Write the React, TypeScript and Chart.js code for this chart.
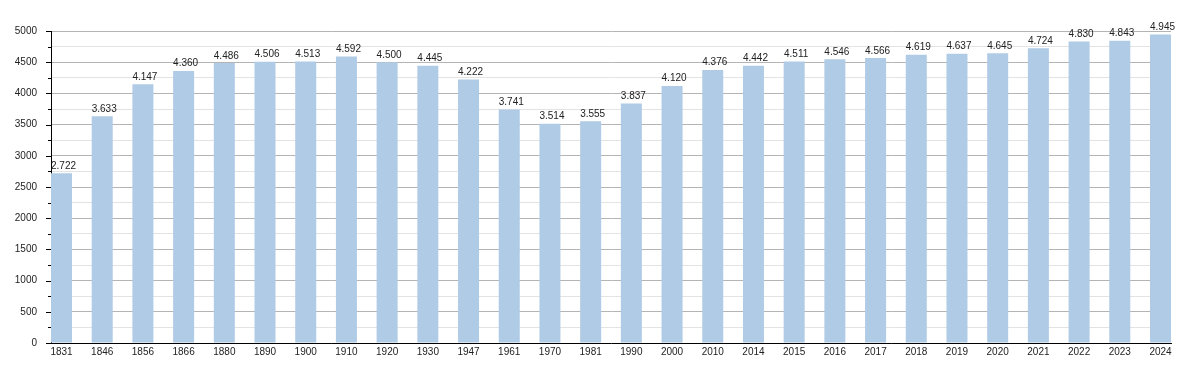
import React, { useEffect, useRef } from "react";
import { Chart, registerables } from "chart.js";

Chart.register(...registerables);

const years = ["1831","1846","1856","1866","1880","1890","1900","1910","1920","1930","1947","1961","1970","1981","1990","2000","2010","2014","2015","2016","2017","2018","2019","2020","2021","2022","2023","2024"];
const population = [2722,3633,4147,4360,4486,4506,4513,4592,4500,4445,4222,3741,3514,3555,3837,4120,4376,4442,4511,4546,4566,4619,4637,4645,4724,4830,4843,4945];
const yMax = 5000;
const yStep = 250;
const yLabelStep = 500;

const BAR_FRACTION = 0.516;
const FONT = "'Liberation Sans', Arial, sans-serif";

function fmt(v: number): string {
  return String(v).replace(/\B(?=(\d{3})+(?!\d))/g, ".");
}

const valueLabels = {
  id: "valueLabels",
  afterDatasetsDraw(chart: any) {
    const ctx = chart.ctx;
    const meta = chart.getDatasetMeta(0);
    ctx.save();
    ctx.font = `10px ${FONT}`;
    ctx.fillStyle = "#222";
    ctx.textAlign = "center";
    ctx.textBaseline = "alphabetic";
    meta.data.forEach((el: any, i: number) => {
      ctx.fillText(fmt(population[i]), el.x + 2, el.y - 4.5);
    });
    ctx.restore();
  },
};

const yTicks = {
  id: "yTicks",
  afterDraw(chart: any) {
    const ctx = chart.ctx;
    const y = chart.scales.y;
    const left = chart.chartArea.left;
    ctx.save();
    ctx.strokeStyle = "#000";
    ctx.lineWidth = 1;
    for (let v = 0; v <= yMax; v += yStep) {
      const py = Math.round(y.getPixelForValue(v)) + 0.5;
      const len = v % yLabelStep === 0 ? 5 : 3;
      ctx.beginPath();
      ctx.moveTo(left - len, py);
      ctx.lineTo(left, py);
      ctx.stroke();
    }
    ctx.restore();
  },
};

export default function App() {
  const ref = useRef<HTMLCanvasElement>(null);
  useEffect(() => {
    document.body.style.margin = "0";
    const canvas = ref.current!;
    const chart = new Chart(canvas, {
      type: "bar",
      data: {
        datasets: [
          {
            data: population.map((v, i) => ({ x: i, y: v })),
            backgroundColor: "rgb(176,203,230)",
            borderWidth: 0,
            categoryPercentage: 1,
            barPercentage: BAR_FRACTION,
          },
        ],
      },
      options: {
        animation: false,
        responsive: false,
        maintainAspectRatio: false,
        layout: { padding: { left: 0, right: 29, top: 31, bottom: 0 } },
        plugins: { legend: { display: false }, tooltip: { enabled: false }, title: { display: false } },
        scales: {
          x: {
            type: "linear",
            offset: false,
            min: -BAR_FRACTION / 2,
            max: years.length - 1 + BAR_FRACTION / 2,
            afterBuildTicks: (axis: any) => {
              axis.ticks = years.map((_, i) => ({ value: i }));
            },
            afterFit: (scale: any) => {
              scale.height = 30;
            },
            grid: { display: false, drawTicks: false, offset: false },
            border: { display: true, color: "#000", width: 1 },
            ticks: {
              autoSkip: false,
              maxRotation: 0,
              padding: 3,
              color: "#222",
              font: { family: FONT, size: 10 },
              callback: (v: any) => years[v] ?? "",
            },
          },
          y: {
            min: 0,
            max: yMax,
            afterFit: (scale: any) => {
              scale.width = 51;
            },
            grid: {
              drawTicks: false,
              color: (ctx: any) => (ctx.tick && ctx.tick.value % yLabelStep === 0 ? "#b4b4b4" : "#e3e3e3"),
              lineWidth: 1,
            },
            border: { display: true, color: "#000", width: 1 },
            ticks: {
              stepSize: yStep,
              padding: 14,
              color: "#222",
              font: { family: FONT, size: 10 },
              callback: (v: any) => (v % yLabelStep === 0 ? String(v) : ""),
            },
          },
        },
      },
      plugins: [valueLabels, yTicks],
    } as any);
    return () => chart.destroy();
  }, []);
  return <canvas ref={ref} width={1200} height={373} style={{ display: "block" }} />;
}
